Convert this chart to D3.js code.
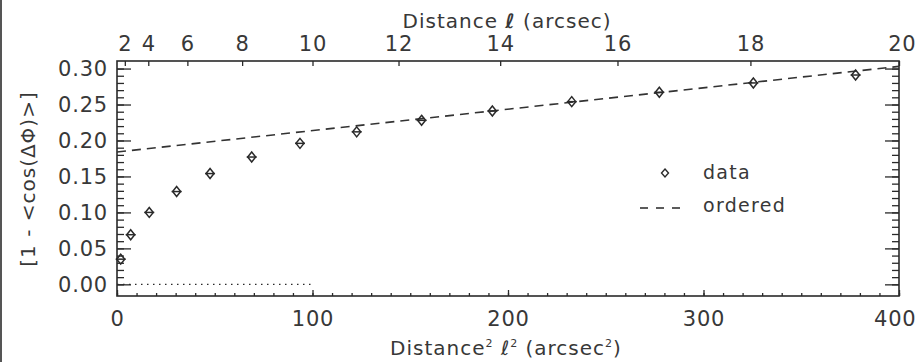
<!DOCTYPE html>
<html>
<head>
<meta charset="utf-8">
<script src="https://cdn.jsdelivr.net/npm/d3@7"></script>
<style>
  html, body { margin: 0; padding: 0; background: #fff; }
  svg { display: block; }
  text { font-family: "DejaVu Sans", sans-serif; fill: #383838; }
</style>
</head>
<body>
<svg id="chart" width="918" height="362"></svg>
<script>
// ---- data ----
const distSq   = [1.9, 7.0, 16.5, 30.5, 47.6, 68.9, 93.6, 122.6, 155.8, 192.0, 232.6, 277.4, 325.5, 377.8];
const dataVals = [0.035, 0.069, 0.100, 0.129, 0.154, 0.177, 0.196, 0.212, 0.228, 0.241, 0.254, 0.267, 0.280, 0.291];
const orderedX = [0, 400];
const orderedY = [0.184, 0.303];
const zeroLineX = [0, 100];
const zeroLineY = [0, 0];
const bottomTicks = [0, 100, 200, 300, 400];
const bottomMinor = d3.range(0, 401, 10);
const topTickLabels = [2, 4, 6, 8, 10, 12, 14, 16, 18, 20];
const yTicks = [0, 0.05, 0.10, 0.15, 0.20, 0.25, 0.30];
const yMinor = d3.range(0, 31).map(d => d / 100);
const legendLabels = ["data", "ordered"];

// ---- layout ----
const L = 117, R = 899, T = 61, B = 296;
const svg = d3.select("#chart");
const ink = "#2a2a2a";
const txt = "#383838";

const x = d3.scaleLinear().domain([0, 400]).range([L, R]);
const y = d3.scaleLinear().domain([-0.0162, 0.3105]).range([B, T]);

// page left border
svg.append("line").attr("x1", 1).attr("x2", 1).attr("y1", 0).attr("y2", 362)
  .attr("stroke", "#555").attr("stroke-width", 2);

// axes
function styleAxis(g) {
  g.select(".domain").remove();
  g.selectAll("line").attr("stroke", ink).attr("stroke-width", 1.3);
  g.selectAll("text").style("font-size", "21px").style("letter-spacing", "0.8px")
    .attr("fill", txt);
}

// bottom
svg.append("g").attr("transform", `translate(0,${B})`)
  .call(d3.axisBottom(x).tickValues(bottomMinor).tickSize(-3).tickFormat(""))
  .call(styleAxis);
const bottomAxis = svg.append("g").attr("transform", `translate(0,${B})`)
  .call(d3.axisBottom(x).tickValues(bottomTicks).tickSize(-6).tickPadding(15).tickFormat(d3.format("d")))
  .call(styleAxis);
bottomAxis.selectAll(".tick text").filter(d => d === 400)
  .attr("text-anchor", "end").attr("dx", 17);

// top (distance l, positioned at l^2)
const topAxis = svg.append("g").attr("transform", `translate(0,${T})`)
  .call(d3.axisTop(x).tickValues(topTickLabels.map(d => d * d)).tickSize(-5).tickPadding(10)
    .tickFormat(d => String(Math.round(Math.sqrt(d)))))
  .call(styleAxis);
topAxis.selectAll(".tick text").filter(d => d === 400)
  .attr("text-anchor", "end").attr("dx", 17);

// left
svg.append("g").attr("transform", `translate(${L},0)`)
  .call(d3.axisLeft(y).tickValues(yMinor).tickSize(-7).tickFormat(""))
  .call(styleAxis);
svg.append("g").attr("transform", `translate(${L},0)`)
  .call(d3.axisLeft(y).tickValues(yTicks).tickSize(-14).tickPadding(9).tickFormat(d3.format(".2f")))
  .call(styleAxis);

// right
svg.append("g").attr("transform", `translate(${R},0)`)
  .call(d3.axisRight(y).tickValues(yMinor).tickSize(-7).tickFormat(""))
  .call(styleAxis);
svg.append("g").attr("transform", `translate(${R},0)`)
  .call(d3.axisRight(y).tickValues(yTicks).tickSize(-14).tickFormat(""))
  .call(styleAxis);

// frame
svg.append("rect").attr("x", L).attr("y", T).attr("width", R - L).attr("height", B - T)
  .attr("fill", "none").attr("stroke", ink).attr("stroke-width", 1.6);

// dotted zero line
svg.append("path")
  .datum(zeroLineX.map((d, i) => [d, zeroLineY[i]]))
  .attr("d", d3.line().x(d => x(d[0])).y(d => y(d[1])))
  .attr("fill", "none").attr("stroke", ink).attr("stroke-width", 1.3)
  .attr("stroke-dasharray", "1.5,4.5");

// ordered dashed line
svg.append("path")
  .datum(orderedX.map((d, i) => [d, orderedY[i]]))
  .attr("d", d3.line().x(d => x(d[0])).y(d => y(d[1])))
  .attr("fill", "none").attr("stroke", "#333").attr("stroke-width", 1.6)
  .attr("stroke-dasharray", "9,6");

// data diamonds
const diamond = "M0,-5 L4,0 L0,5 L-4,0 Z";
const pts = svg.append("g").selectAll("g").data(distSq.map((d, i) => [d, dataVals[i]]))
  .join("g").attr("transform", d => `translate(${x(d[0])},${y(d[1])})`);
pts.append("path").attr("d", diamond).attr("fill", "none").attr("stroke", ink).attr("stroke-width", 1.5);
pts.append("line").attr("x1", -5).attr("x2", 5).attr("y1", 0).attr("y2", 0)
  .attr("stroke", ink).attr("stroke-width", 1.5);

// legend
const lg = svg.append("g");
lg.append("path").attr("d", "M0,-4 L3.5,0 L0,4 L-3.5,0 Z").attr("transform", "translate(665,173)")
  .attr("fill", "none").attr("stroke", ink).attr("stroke-width", 1.4);
[0, 1, 2].forEach(k => {
  lg.append("line").attr("x1", 640 + k * 16).attr("x2", 648 + k * 16).attr("y1", 208).attr("y2", 208)
    .attr("stroke", "#333").attr("stroke-width", 1.6);
});
lg.selectAll("text.lab").data(legendLabels).join("text").attr("class", "lab")
  .attr("x", 703).attr("y", (d, i) => 179 + i * 33)
  .style("font-size", "19px").style("letter-spacing", "1.3px").text(d => d);

// axis titles
const topTitle = svg.append("text").attr("x", 507).attr("y", 28).attr("text-anchor", "middle")
  .style("font-size", "20px").style("letter-spacing", "1px");
topTitle.append("tspan").text("Distance ");
topTitle.append("tspan").style("font-weight", "bold").style("font-style", "italic").text("ℓ");
topTitle.append("tspan").text(" (arcsec)");

const botTitle = svg.append("text").attr("x", 506).attr("y", 355).attr("text-anchor", "middle")
  .style("font-size", "20px").style("letter-spacing", "1px");
botTitle.append("tspan").text("Distance");
botTitle.append("tspan").attr("dy", -8).style("font-size", "11px").text("2");
botTitle.append("tspan").attr("dy", 8).text(" ℓ");
botTitle.append("tspan").attr("dy", -8).style("font-size", "11px").text("2");
botTitle.append("tspan").attr("dy", 8).text(" (arcsec");
botTitle.append("tspan").attr("dy", -8).style("font-size", "11px").text("2");
botTitle.append("tspan").attr("dy", 8).text(")");

svg.append("text").attr("transform", "translate(35,179) rotate(-90)").attr("text-anchor", "middle")
  .style("font-size", "20px").style("letter-spacing", "1px")
  .text("[1 - <cos(ΔΦ)>]");
</script>
</body>
</html>
